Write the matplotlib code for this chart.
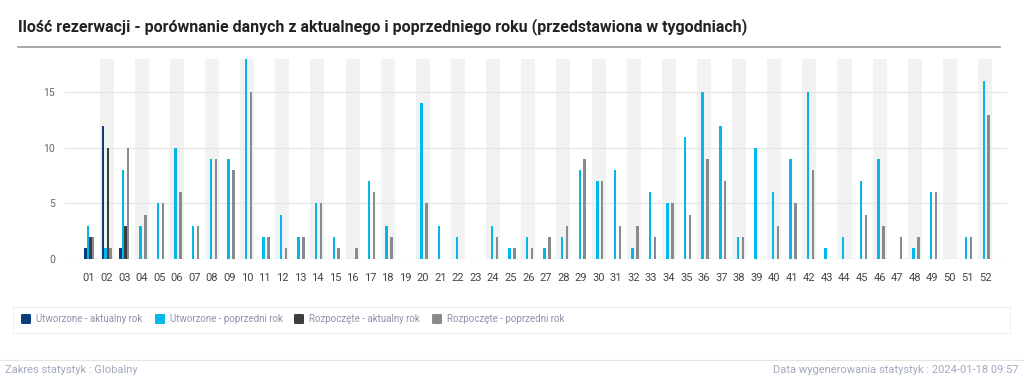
import numpy as np
import matplotlib
matplotlib.use("Agg")
import matplotlib.pyplot as plt
from matplotlib.patches import FancyBboxPatch, Rectangle
from matplotlib.lines import Line2D

# ================================
# DATA
# ================================
weeks = ["%02d" % w for w in range(1, 53)]

created_current = [1, 12, 1] + [0] * 49
created_previous = [3, 1, 8, 3, 5, 10, 3, 9, 9, 18,
                    2, 4, 2, 5, 2, 0, 7, 3, 0, 14,
                    3, 2, 0, 3, 1, 2, 1, 2, 8, 7,
                    8, 1, 6, 5, 11, 15, 12, 2, 10, 6,
                    9, 15, 1, 2, 7, 9, 0, 1, 6, 0,
                    2, 16]
started_current = [2, 10, 3] + [0] * 49
started_previous = [2, 1, 10, 4, 5, 6, 3, 9, 8, 15,
                    2, 1, 2, 5, 1, 1, 6, 2, 0, 5,
                    0, 0, 0, 2, 1, 1, 2, 3, 9, 7,
                    3, 3, 2, 5, 4, 9, 7, 2, 0, 3,
                    5, 8, 0, 0, 4, 3, 2, 2, 6, 0,
                    2, 13]

series_labels = ["Utworzone - aktualny rok", "Utworzone - poprzedni rok",
                 "Rozpoczęte - aktualny rok", "Rozpoczęte - poprzedni rok"]
series_colors = ["#0b3f7c", "#00b8ea", "#3d3d3d", "#8a8a8a"]

title = "Ilość rezerwacji - porównanie danych z aktualnego i poprzedniego roku (przedstawiona w tygodniach)"
footer_left = "Zakres statystyk : Globalny"
footer_right = "Data wygenerowania statystyk : 2024-01-18 09:57"

plt.rcParams['font.family'] = ['Roboto', 'DejaVu Sans']

# ================================
# FIGURE
# ================================
W, H = 1024, 389
fig = plt.figure(figsize=(W / 100, H / 100), dpi=100)
fig.patch.set_facecolor("white")

def fx(px):
    return px / W

def fy(py):
    return 1 - py / H

# title + separator
fig.text(fx(18), fy(27), title, fontsize=11.5, fontweight="semibold",
         color="#222222", va="center", ha="left")
fig.add_artist(Line2D([fx(18), fx(1000)], [fy(47), fy(47)],
                      color="#9a9a9a", lw=1.2))

# ================================
# CHART
# ================================
ax = fig.add_axes([fx(65), fy(259), fx(1007) - fx(65), fy(59) - fy(259)])
x = np.arange(len(weeks))

for i in x:
    if i % 2 == 1:
        ax.axvspan(i - 0.4, i + 0.4, color="#f2f2f2", zorder=0, lw=0)

ax.set_axisbelow(True)
ax.yaxis.grid(True, color="#e6e6e6", lw=1)

all_series = [created_current, created_previous, started_current, started_previous]
offsets = [-0.21, -0.07, 0.07, 0.21]
for vals, off, col in zip(all_series, offsets, series_colors):
    ax.bar(x + off, vals, width=0.14, color=col, zorder=2, lw=0)

ax.set_xlim(-1.37, 52.25)
ax.set_ylim(0, 18)
ax.set_yticks([0, 5, 10, 15])
ax.set_xticks(x)
ax.set_xticklabels(weeks)
ax.tick_params(axis="x", length=0, pad=10, labelsize=8, labelcolor="#444444")
ax.tick_params(axis="y", length=0, pad=7, labelsize=7.5, labelcolor="#666666")
for s in ax.spines.values():
    s.set_visible(False)

# ================================
# LEGEND (drawn by hand)
# ================================
fig.add_artist(Rectangle((fx(13), fy(333)), fx(1010) - fx(13), fy(307) - fy(333),
                         facecolor="white", edgecolor="#eeeeee", lw=0.8))
legend_x = [21, 155, 294, 432]
for lx, lab, col in zip(legend_x, series_labels, series_colors):
    fig.add_artist(FancyBboxPatch((fx(lx), fy(324)), fx(10), fy(314) - fy(324),
                                  boxstyle="round,pad=0,rounding_size=0.002",
                                  facecolor=col, edgecolor="none"))
    fig.text(fx(lx + 15), fy(319), lab, fontsize=7, color="#8d93ab",
             va="center", ha="left")

# ================================
# FOOTER
# ================================
fig.add_artist(Line2D([0, 1], [fy(360), fy(360)], color="#e6e6e6", lw=0.8))
fig.text(fx(5), fy(370), footer_left, fontsize=8, color="#a3a9bf",
         va="center", ha="left")
fig.text(fx(1019), fy(370), footer_right, fontsize=8, color="#a3a9bf",
         va="center", ha="right")

fig.savefig("out.png", dpi=100)
